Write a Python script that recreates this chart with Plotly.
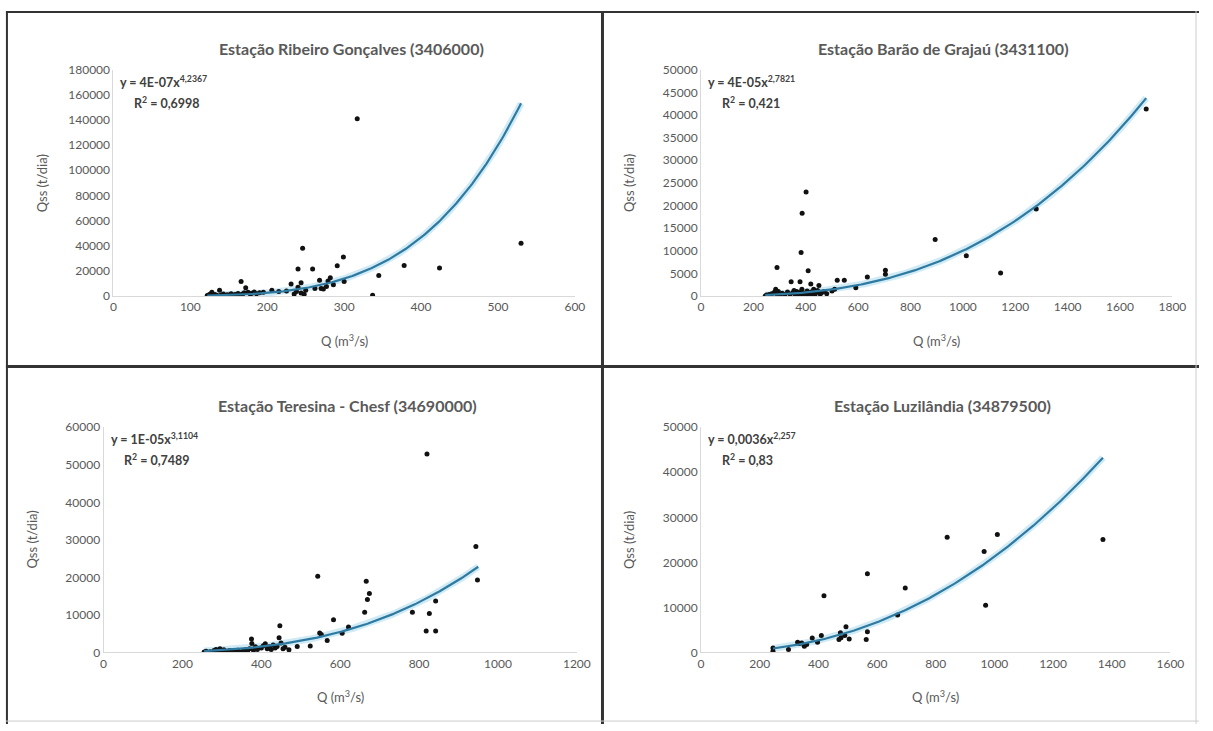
import numpy as np
import plotly.graph_objects as go

W, H = 1213, 731

# ---------------- data ----------------
titles = ["Estação Ribeiro Gonçalves (3406000)", "Estação Barão de Grajaú (3431100)",
          "Estação Teresina - Chesf (34690000)", "Estação Luzilândia (34879500)"]
equations = ["y = 4E-07x<sup>4,2367</sup>", "y = 4E-05x<sup>2,7821</sup>",
             "y = 1E-05x<sup>3,1104</sup>", "y = 0,0036x<sup>2,257</sup>"]
r2_texts = ["R<sup>2</sup> = 0,6998", "R<sup>2</sup> = 0,421",
            "R<sup>2</sup> = 0,7489", "R<sup>2</sup> = 0,83"]

q1 = [122, 124, 126, 128, 130, 132, 135, 138, 140, 143, 145, 148, 150, 153, 156, 158, 160, 162,
      165, 166, 168, 170, 172, 175, 178, 180, 183, 186, 190, 195, 206, 215, 225, 231, 235, 238,
      240, 240, 244, 244, 246, 248, 250, 259, 262, 268, 270, 273, 277, 279, 282, 286, 291, 299,
      300, 317, 337, 345, 378, 424, 530]
s1 = [300, 800, 1500, 2900, 500, 1200, 400, 4500, 800, 1500, 300, 1000, 600, 1800, 400, 1200, 700, 2000,
      900, 11500, 1500, 2500, 6500, 3000, 1500, 2200, 3200, 1800, 2500, 3000, 4500, 3500, 4000, 9500, 1500, 3500,
      7000, 21500, 10500, 2300, 38000, 1300, 4500, 21500, 6000, 12500, 6000, 5500, 7600, 12000, 14500, 9000, 24000, 31000,
      11500, 141000, 600, 16300, 24300, 22200, 42000]

q2 = [245, 250, 260, 270, 280, 285, 290, 290, 295, 300, 310, 320, 330, 340, 344, 350, 355, 360, 365,
      370, 375, 378, 380, 382, 385, 386, 390, 395, 400, 401, 405, 409, 410, 415, 419, 420, 425, 430, 435,
      440, 445, 450, 455, 460, 470, 480, 500, 510, 520, 547, 591, 635, 704, 704, 894, 1013, 1144, 1280, 1700]
s2 = [0, 200, 300, 500, 800, 1500, 400, 6300, 1000, 200, 600, 300, 900, 400, 3150, 700, 1200, 300, 1000,
      500, 200, 3150, 800, 9600, 1500, 18300, 300, 600, 100, 23000, 1100, 5600, 400, 200, 2650, 900, 500, 1500, 300,
      800, 1200, 2300, 400, 700, 1000, 500, 1100, 1500, 3500, 3500, 1800, 4200, 5700, 4800, 12500, 8900, 5100, 19200, 41300]

q3 = [255, 260, 270, 280, 285, 290, 295, 300, 305, 310, 320, 330, 340, 350, 355, 360, 365, 370, 375,
      376, 380, 385, 390, 400, 405, 410, 415, 420, 425, 430, 435, 440, 445, 447, 450, 455, 460, 470,
      491, 524, 543, 548, 552, 567, 583, 605, 621, 662, 666, 669, 674, 783, 818, 820, 826, 842, 842,
      944, 948]
s3 = [100, 300, 200, 500, 800, 300, 1000, 400, 700, 200, 500, 300, 600, 200, 400, 700, 300, 1000, 3600,
      2400, 500, 1500, 800, 1200, 1800, 2300, 1000, 1500, 800, 2000, 1200, 1600, 3900, 7100, 2500, 1000, 1400, 750,
      1600, 1700, 20300, 5200, 4800, 3200, 8700, 5100, 6800, 10700, 19000, 14100, 15700, 10700, 5700, 52900, 10400, 13700, 5700,
      28200, 19300]

q4 = [245, 245, 298, 329, 335, 343, 352, 360, 379, 397, 410, 419, 470, 475, 477, 490, 494, 505,
      563, 567, 567, 670, 696, 839, 965, 970, 1010, 1370]
s4 = [300, 1000, 650, 2300, 2000, 2100, 1400, 1800, 3200, 2300, 3800, 12600, 2900, 4400, 3300, 3800, 5700, 3000,
      2900, 4600, 17500, 8300, 14300, 25600, 22400, 10500, 26200, 25100]

# power-trend coefficients (y = a * x^b) and fitted range
trend_a = [4.4e-07, 4.5e-05, 1.25e-05, 0.0036]
trend_b = [4.2367, 2.7821, 3.1104, 2.257]
trend_lo = [122, 245, 255, 245]
trend_hi = [530, 1700, 950, 1370]

x_max = [600, 1800, 1200, 1600]
x_dtick = [100, 200, 200, 200]
y_max = [180000, 50000, 60000, 50000]
y_dtick = [20000, 5000, 10000, 10000]

QS = [q1, q2, q3, q4]
SS = [s1, s2, s3, s4]

# ---------------- layout geometry (pixels) ----------------
# (left, right, top, bottom) of each plot area
boxes = [(112, 580, 63, 294), (708, 1186, 63, 294),
         (102, 582, 428, 658), (708, 1184, 428, 658)]

FONT = "Lato"
GRAY = "#595959"

def px(x):
    return x / W

def py(y):
    return 1 - y / H

fig = go.Figure()
layout = dict(width=W, height=H, margin=dict(l=0, r=0, t=0, b=0),
              paper_bgcolor="white", plot_bgcolor="white", showlegend=False,
              font=dict(family=FONT, color=GRAY))
annotations = []
shapes = []

for i in range(4):
    n = "" if i == 0 else str(i + 1)
    xa, ya = "x" + n, "y" + n
    L, R, T, B = boxes[i]
    layout["xaxis" + n] = dict(domain=[px(L), px(R)], range=[0, x_max[i]], dtick=x_dtick[i],
                              anchor=ya, showline=True, linecolor="#D9D9D9", linewidth=1,
                              showgrid=False, zeroline=False, ticks="",
                              exponentformat="none", separatethousands=False, tickformat="d",
                              tickfont=dict(size=12, color=GRAY, family=FONT))
    layout["yaxis" + n] = dict(domain=[py(B), py(T)], range=[0, y_max[i]], dtick=y_dtick[i],
                              anchor=xa, showline=True, linecolor="#D9D9D9", linewidth=1,
                              showgrid=False, zeroline=False, ticks="",
                              exponentformat="none", separatethousands=False, tickformat="d",
                              tickfont=dict(size=12, color=GRAY, family=FONT))
    xs = np.linspace(trend_lo[i], trend_hi[i], 200)
    ys = trend_a[i] * xs ** trend_b[i]
    fig.add_trace(go.Scatter(x=xs, y=ys, mode="lines", xaxis=xa, yaxis=ya,
                             line=dict(color="rgba(150,210,235,0.45)", width=7), hoverinfo="skip"))
    fig.add_trace(go.Scatter(x=QS[i], y=SS[i], mode="markers", xaxis=xa, yaxis=ya,
                             marker=dict(color="#111111", size=5)))
    fig.add_trace(go.Scatter(x=xs, y=ys, mode="lines", xaxis=xa, yaxis=ya,
                             line=dict(color="#2F7AA0", width=2.2)))

    cx = (L + R) / 2
    # chart title
    annotations.append(dict(text="<b>" + titles[i] + "</b>", x=px(cx + 7), y=py(T - 22), xref="paper",
                            yref="paper", showarrow=False, xanchor="center", yanchor="middle",
                            font=dict(size=16, color=GRAY, family=FONT)))
    # axis titles
    annotations.append(dict(text="Q (m<sup>3</sup>/s)", x=px(cx), y=py(B + 45), xref="paper", yref="paper",
                            showarrow=False, xanchor="center", yanchor="middle",
                            font=dict(size=13, color=GRAY, family=FONT)))
    annotations.append(dict(text="Qss (t/dia)", x=px(L - 73), y=py((T + B) / 2), xref="paper", yref="paper",
                            showarrow=False, xanchor="center", yanchor="middle", textangle=-90,
                            font=dict(size=13, color=GRAY, family=FONT)))
    # equation + R2
    annotations.append(dict(text="<b>" + equations[i] + "</b>", x=px(L + 5), y=py(T + 12), xref="paper",
                            yref="paper", showarrow=False, xanchor="left", yanchor="middle",
                            font=dict(size=12.5, color="#404040", family=FONT)))
    annotations.append(dict(text="<b>" + r2_texts[i] + "</b>", x=px(L + 19), y=py(T + 33), xref="paper",
                            yref="paper", showarrow=False, xanchor="left", yanchor="middle",
                            font=dict(size=12.5, color="#404040", family=FONT)))

# frame lines
def hline(y, x0, x1, color, w):
    shapes.append(dict(type="line", xref="paper", yref="paper", x0=px(x0), x1=px(x1), y0=py(y), y1=py(y),
                       line=dict(color=color, width=w)))

def vline(x, y0, y1, color, w):
    shapes.append(dict(type="line", xref="paper", yref="paper", x0=px(x), x1=px(x), y0=py(y0), y1=py(y1),
                       line=dict(color=color, width=w)))

hline(4, 3, W, "#333333", 2)
vline(4, 3, H, "#333333", 2)
vline(608, 3, H, "#333333", 3)
hline(366, 3, W, "#333333", 3)
vline(1210, 3, H, "#CCCCCC", 1)
hline(728, 3, W, "#CCCCCC", 1)

layout["annotations"] = annotations
layout["shapes"] = shapes
fig.update_layout(**layout)
fig.write_html("out.html", config={"displayModeBar": False},
               post_script="document.body.style.margin='0px';")
